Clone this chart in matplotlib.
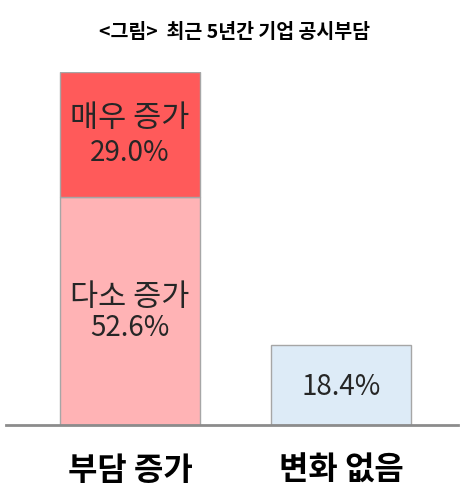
import matplotlib.pyplot as plt

plt.rcParams['font.family'] = ['Noto Sans CJK KR', 'DejaVu Sans']

# 데이터
categories = ['부담 증가', '변화 없음']
lower_vals = [52.6, 18.4]   # 다소 증가 / 변화 없음
upper_vals = [29.0, 0.0]    # 매우 증가
lower_names = ['다소 증가', '']
upper_names = ['매우 증가', '']

lower_colors = ['#FFB3B5', '#DDEBF7']
upper_color = '#FF5A5A'
txt_color = '#262626'

fig = plt.figure(figsize=(4.69, 5.02), dpi=100)
ax = fig.add_axes([6 / 469, 76 / 502, 452 / 469, 353 / 502])

x = [0, 1]
width = 0.66
ax.bar(x, lower_vals, width, color=lower_colors, edgecolor='#A6A6A6', linewidth=1)
ax.bar(x[0], upper_vals[0], width, bottom=lower_vals[0], color=upper_color,
       edgecolor='#A6A6A6', linewidth=1)

# 막대 안 텍스트 (이름 / 비율)
top = lower_vals[0] + upper_vals[0]
ax.text(x[0], top - 10.6, upper_names[0], ha='center', va='center', fontsize=22, color=txt_color)
ax.text(x[0], top - 18.4, f'{upper_vals[0]:.1f}%', ha='center', va='center', fontsize=20, color=txt_color)
ax.text(x[0], lower_vals[0] - 23.0, lower_names[0], ha='center', va='center', fontsize=22, color=txt_color)
ax.text(x[0], lower_vals[0] - 30.0, f'{lower_vals[0]:.1f}%', ha='center', va='center', fontsize=20, color=txt_color)
ax.text(x[1], lower_vals[1] / 2 - 0.3, f'{lower_vals[1]:.1f}%', ha='center', va='center',
        fontsize=20, color=txt_color)

ax.set_xlim(-0.588, 1.554)
ax.set_ylim(0, 81.6)
for s in ['top', 'right', 'left']:
    ax.spines[s].set_visible(False)
ax.spines['bottom'].set_color('#8C8C8C')
ax.spines['bottom'].set_linewidth(2)
ax.set_yticks([])
ax.set_xticks(x)
ax.set_xticklabels(categories, fontsize=23, fontweight='bold')
ax.tick_params(axis='x', length=0, pad=21)

fig.text(0.5, (502 - 32) / 502, '<그림>  최근 5년간 기업 공시부담', ha='center', va='center',
         fontsize=14, fontweight='bold')

fig.savefig('out.png', dpi=100)
